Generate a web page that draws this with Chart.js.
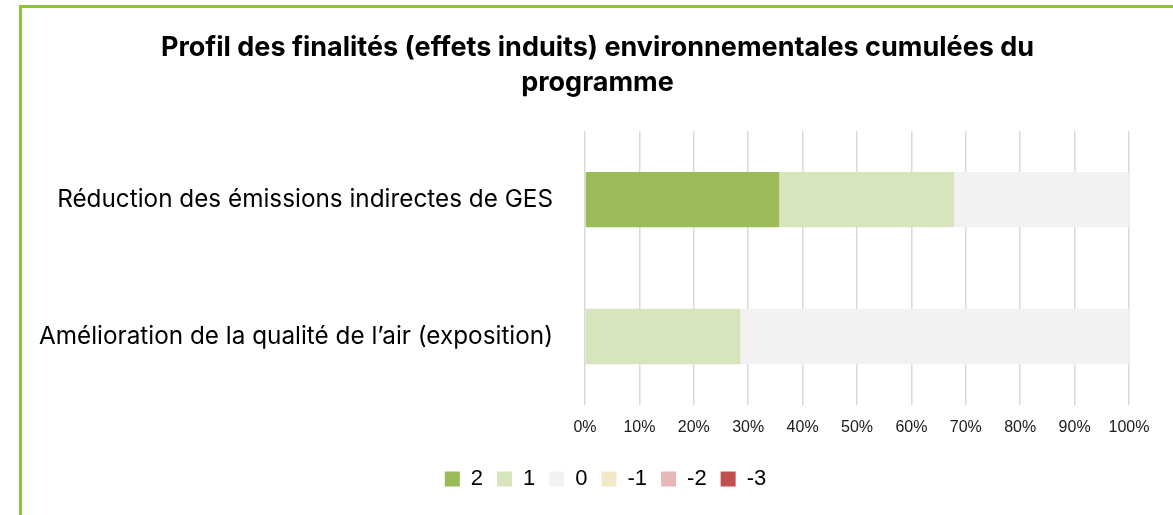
<!DOCTYPE html>
<html><head><meta charset="utf-8">
<script src="https://cdn.jsdelivr.net/npm/chart.js@4.4.1/dist/chart.umd.min.js"></script>
<style>
html,body{margin:0;padding:0;background:#fff;overflow:hidden;}
#frame{position:absolute;left:19px;top:5px;width:1160px;height:520px;border-top:3px solid #8cc43c;border-left:3px solid #8cc43c;box-sizing:border-box;}
#wrap{position:absolute;left:22px;top:8px;width:1151px;height:507px;}
</style></head>
<body>
<div id="frame"></div>
<div id="wrap"><canvas id="c"></canvas></div>
<script>
const categories = ["Réduction des émissions indirectes de GES", "Amélioration de la qualité de l’air (exposition)"];
const seriesLabels = ["2", "1", "0", "-1", "-2", "-3"];
const s2 = [35.71, 0];
const s1 = [32.14, 28.57];
const s0 = [32.14, 71.43];
const sm1 = [0, 0];
const sm2 = [0, 0];
const sm3 = [0, 0];
const colors = ["#9bbb59", "#d7e4bd", "#f2f2f2", "#f2e8c6", "#e6b9b8", "#c0504d"];
const titleLines = ["Profil des finalités (effets induits) environnementales cumulées du", "programme"];

const values = [s2, s1, s0, sm1, sm2, sm3];
const datasets = seriesLabels.map((l, i) => ({
  label: l, data: values[i], backgroundColor: colors[i], borderWidth: 0,
  barPercentage: 0.405, categoryPercentage: 1
}));

const legendShift = {
  id: 'legendShift',
  afterLayout(chart) {
    if (chart.legend) { chart.legend.left += 8; chart.legend.right += 8; }
  }
};

new Chart(document.getElementById('c'), {
  type: 'bar',
  data: { labels: categories, datasets },
  plugins: [legendShift],
  options: {
    indexAxis: 'y', responsive: true, maintainAspectRatio: false, animation: false,
    layout: { padding: { left: 0, right: 0, top: 22, bottom: 15 } },
    plugins: {
      title: { display: true, text: titleLines, color: '#000',
        font: { family: 'Inter, "Open Sans", sans-serif', size: 27, weight: 'bold', lineHeight: 1.3 },
        padding: { top: 0, bottom: 31 } },
      legend: { position: 'bottom',
        labels: { boxWidth: 15, boxHeight: 15, color: '#000', padding: 14,
          font: { family: '"Liberation Sans", Arial, sans-serif', size: 22 } } },
      tooltip: { enabled: false }
    },
    scales: {
      x: { stacked: true, min: 0, max: 100,
        afterFit: s => { s.height = 49; },
        ticks: { stepSize: 10, callback: v => v + '%', color: '#1a1a1a', padding: 13,
          font: { family: '"Liberation Sans", Arial, sans-serif', size: 16 } },
        grid: { color: '#d9d9d9', lineWidth: 1.5, drawTicks: false },
        border: { display: false } },
      y: { stacked: true,
        afterFit: s => { s.width = 563; },
        ticks: { color: '#000', padding: 24,
          font: { family: 'Inter, "Open Sans", sans-serif', size: 24.3 } },
        grid: { display: false }, border: { display: false } },
      yRight: { type: 'category', position: 'right', labels: categories,
        afterFit: s => { s.width = 44; },
        ticks: { display: false }, grid: { display: false }, border: { display: false } }
    }
  }
});
</script>
</body></html>
